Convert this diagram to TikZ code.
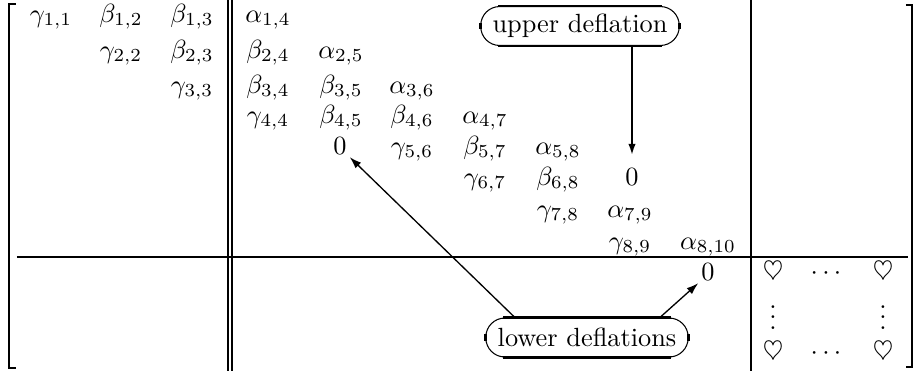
\documentclass[tikz,border=0pt]{standalone}
\usetikzlibrary{arrows.meta}
\newcommand\myvdots{\vbox{\baselineskip4pt\lineskiplimit0pt\hbox{.}\hbox{.}\hbox{.}}}
\tikzset{
  ent/.style={anchor=base, inner sep=1pt},
  frame/.style={line width=0.75pt},
  ovalbox/.style={draw, line width=0.4pt, rounded corners=7.2pt, minimum height=14.8pt, inner xsep=4.5pt, inner ysep=2pt},
  ovalthick/.style={line width=1.1pt},
  uparrow/.style={line width=1.1pt, -{Latex[length=4.5pt,width=2.8pt]}, shorten >=3.5pt},
  lowarrow/.style={line width=0.5pt, -{Latex[length=4.5pt,width=3pt]}}
}
\begin{document}
\begin{tikzpicture}[x=0.38pt,y=-0.38pt]
\useasboundingbox (0,0) rectangle (915,371);
% frame
\draw[frame] (16,4) -- (9,4) -- (9,368) -- (16,368);
\draw[frame] (906,5) -- (912,5) -- (912,367) -- (906,367);
\draw[frame] (228,0) -- (228,371);
\draw[frame] (232,0) -- (232,371);
\draw[frame] (751,0) -- (751,371);
\draw[frame] (17,257) -- (908,257);
% row 1
\node[ent] (g11) at (51,22) {$\gamma_{1,1}$};
\node[ent] (b12) at (121,22) {$\beta_{1,2}$};
\node[ent] (b13) at (192,22) {$\beta_{1,3}$};
\node[ent] (a14) at (268,22) {$\alpha_{1,4}$};
% row 2
\node[ent] (g22) at (121,58) {$\gamma_{2,2}$};
\node[ent] (b23) at (192,58) {$\beta_{2,3}$};
\node[ent] (b24) at (268,58) {$\beta_{2,4}$};
\node[ent] (a25) at (341,58) {$\alpha_{2,5}$};
% row 3
\node[ent] (g33) at (192,93) {$\gamma_{3,3}$};
\node[ent] (b34) at (268,93) {$\beta_{3,4}$};
\node[ent] (b35) at (341,93) {$\beta_{3,5}$};
\node[ent] (a36) at (412,93) {$\alpha_{3,6}$};
% row 4
\node[ent] (g44) at (268,123) {$\gamma_{4,4}$};
\node[ent] (b45) at (341,123) {$\beta_{4,5}$};
\node[ent] (b46) at (412,123) {$\beta_{4,6}$};
\node[ent] (a47) at (485,123) {$\alpha_{4,7}$};
% row 5
\node[ent] (z5) at (340,154) {$0$};
\node[ent] (g56) at (412,154) {$\gamma_{5,6}$};
\node[ent] (b57) at (485,154) {$\beta_{5,7}$};
\node[ent] (a58) at (558,154) {$\alpha_{5,8}$};
% row 6
\node[ent] (g67) at (485,185) {$\gamma_{6,7}$};
\node[ent] (b68) at (558,185) {$\beta_{6,8}$};
\node[ent] (z6) at (632,185) {$0$};
% row 7
\node[ent] (g78) at (558,217) {$\gamma_{7,8}$};
\node[ent] (a79) at (630,217) {$\alpha_{7,9}$};
% row 8
\node[ent] (g89) at (630,249) {$\gamma_{8,9}$};
\node[ent] (a810) at (708,249) {$\alpha_{8,10}$};
% row 9
\node[ent] (z9) at (708,280) {$0$};
% lower right block
\node[ent] (h11) at (773,279) {$\heartsuit$};
\node[ent] (hd1) at (826,279) {$\cdots$};
\node[ent] (h12) at (883,279) {$\heartsuit$};
\node[ent, inner sep=0pt] (v1) at (773,329.5) {\myvdots};
\node[ent, inner sep=0pt] (v2) at (883,329.5) {\myvdots};
\node[ent] (h21) at (773,359) {$\heartsuit$};
\node[ent] (hd2) at (826,359) {$\cdots$};
\node[ent] (h22) at (883,359) {$\heartsuit$};
% labels
\node[ovalbox] (ud) at (580,26) {upper deflation};
\node[ovalbox] (ld) at (587,337.5) {lower deflations};
\foreach \b in {ud,ld}{
  \draw[ovalthick] ([xshift=6.8pt]\b.north west) -- ([xshift=-6.8pt]\b.north east);
  \draw[ovalthick] ([xshift=6.8pt]\b.south west) -- ([xshift=-6.8pt]\b.south east);
  \draw[ovalthick] ([yshift=1.2pt]\b.west) -- ([yshift=-1.2pt]\b.west);
  \draw[ovalthick] ([yshift=1.2pt]\b.east) -- ([yshift=-1.2pt]\b.east);
}
% arrows
\draw[uparrow] (ud.south -| z6.north) -- (z6.north);
\draw[lowarrow] ([xshift=-27.4pt]ld.north) -- (z5.south east);
\draw[lowarrow] ([xshift=27.7pt]ld.north) -- (z9.south west);
\end{tikzpicture}
\end{document}
